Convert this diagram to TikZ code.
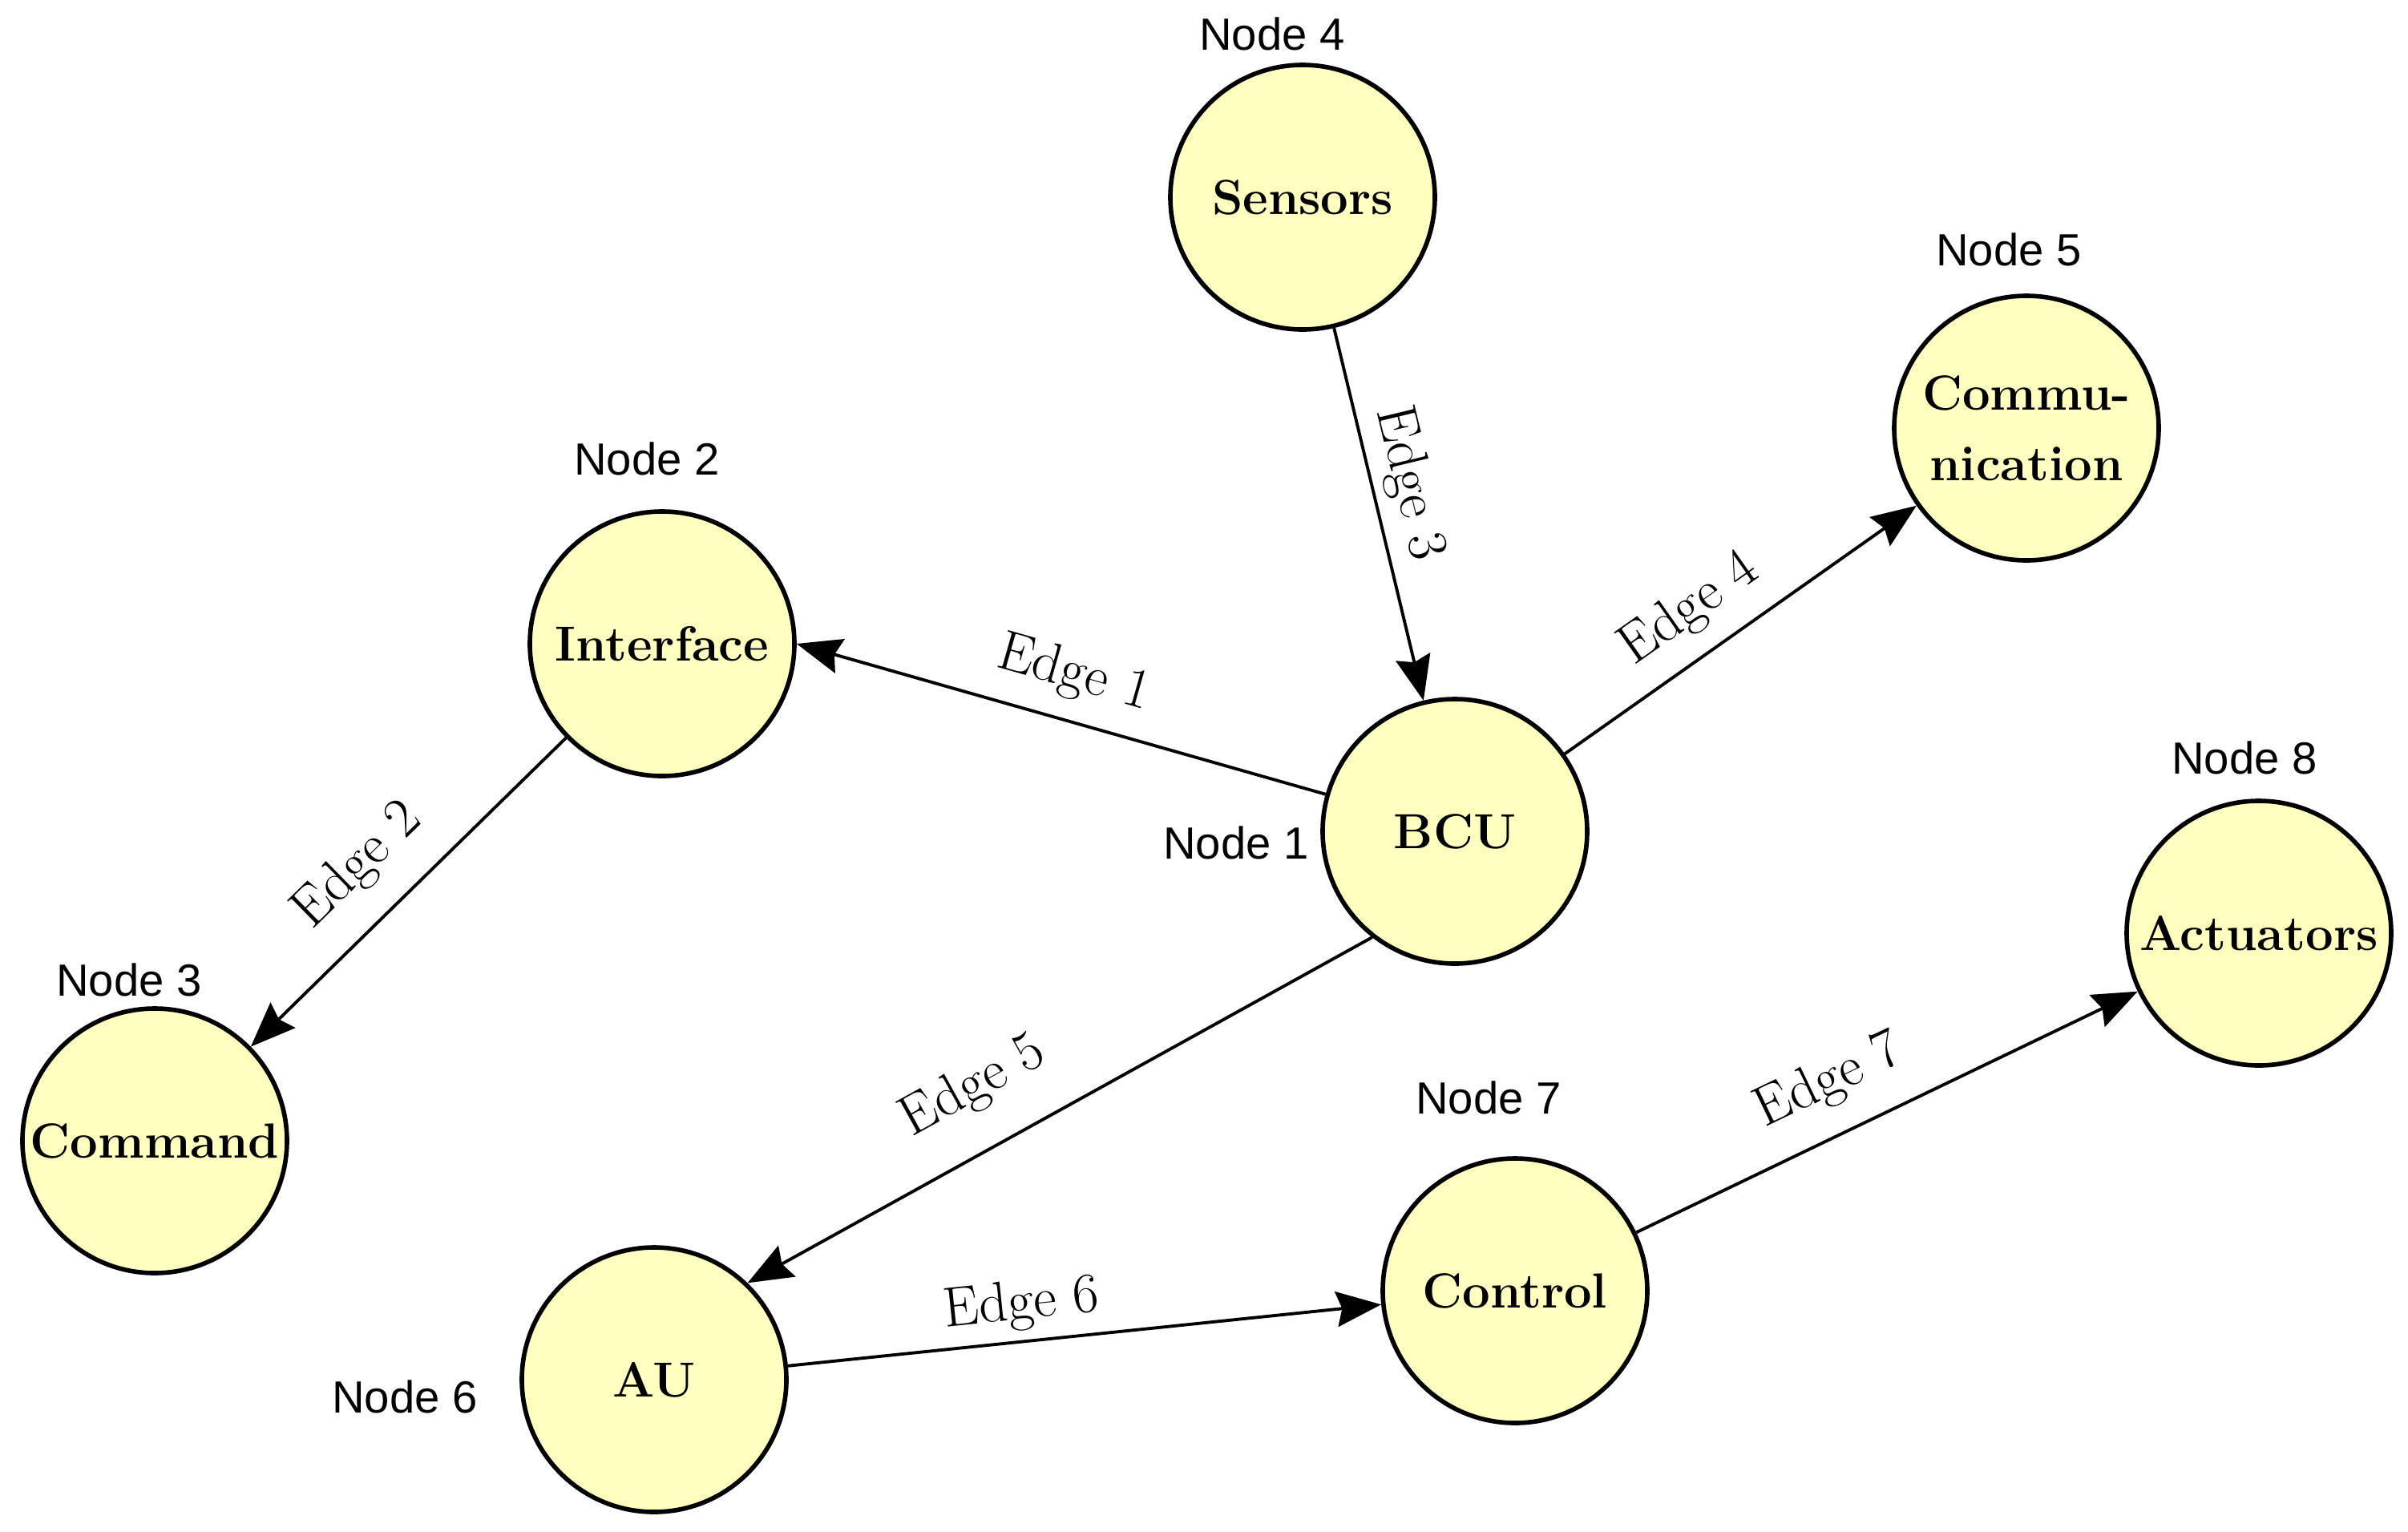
\documentclass[tikz,border=0pt]{standalone}
\usepackage{xcolor}
\usepackage{fontspec}
\usepackage{tikz}
\usetikzlibrary{arrows.meta}

\newfontfamily\tagfont{Liberation Sans}
\definecolor{unitfill}{RGB}{255,255,192}

\begin{document}
\begin{tikzpicture}[
    unit/.style={circle, draw, line width=1.6pt, fill=unitfill, minimum size=3.3cm,
      inner sep=0pt, align=center, font=\fontsize{17.5}{25}\selectfont\bfseries},
    tag/.style={font=\tagfont\fontsize{16}{19}\selectfont},
    link/.style={line width=1.1pt, -{Stealth[length=0.56cm,width=0.44cm,inset=0.07cm]}},
    elabel/.style={sloped, font=\fontsize{20}{23}\selectfont}
  ]
  \useasboundingbox (0,0) rectangle (30.04,-19.10);
  \begin{scope}

    % the units:
    \node[unit] (bcu) at (18.15,-10.37) {BCU};
    \node[unit] (iface) at (8.26,-8.03) {Interface};
    \node[unit] (cmd) at (1.93,-14.23) {Command};
    \node[unit] (sens) at (16.25,-2.46) {Sensors};
    \node[unit] (comm) at (25.28,-5.34) {Commu-\\nication};
    \node[unit] (au) at (8.16,-17.21) {AU};
    \node[unit] (ctrl) at (18.90,-16.10) {Control};
    \node[unit] (act) at (28.18,-11.64) {Actuators};

    % node numbers:
    \node[tag] (tag1) at (15.42,-10.51) {Node 1};
    \node[tag] (tag2) at (8.07,-5.72) {Node 2};
    \node[tag] (tag3) at (1.61,-12.22) {Node 3};
    \node[tag] (tag4) at (15.87,-0.42) {Node 4};
    \node[tag] (tag5) at (25.06,-3.11) {Node 5};
    \node[tag] (tag6) at (5.05,-17.42) {Node 6};
    \node[tag] (tag7) at (18.57,-13.69) {Node 7};
    \node[tag] (tag8) at (28.00,-9.45) {Node 8};

    % edges and their letterings:
    \draw[link] (bcu.164) -- node[elabel, above=0.12cm, pos=0.5] {Edge 1} (iface.east);
    \draw[link] (iface) -- node[elabel, above=0.22cm, pos=0.54] {Edge 2} (cmd);
    \draw[link] (sens) -- node[elabel, above, pos=0.44] {Edge 3} (bcu);
    \draw[link] (bcu) -- node[elabel, above=0.12cm, pos=0.43] {Edge 4} (comm);
    \draw[link] (bcu.232) -- node[elabel, above=0.32cm, pos=0.59] {Edge 5} (au.46);
    \draw[link] (au) -- node[elabel, above, pos=0.4] {Edge 6} (ctrl);
    \draw[link] (ctrl) -- node[elabel, above=0.2cm, pos=0.43] {Edge 7} (act);

  \end{scope}
\end{tikzpicture}
\end{document}
